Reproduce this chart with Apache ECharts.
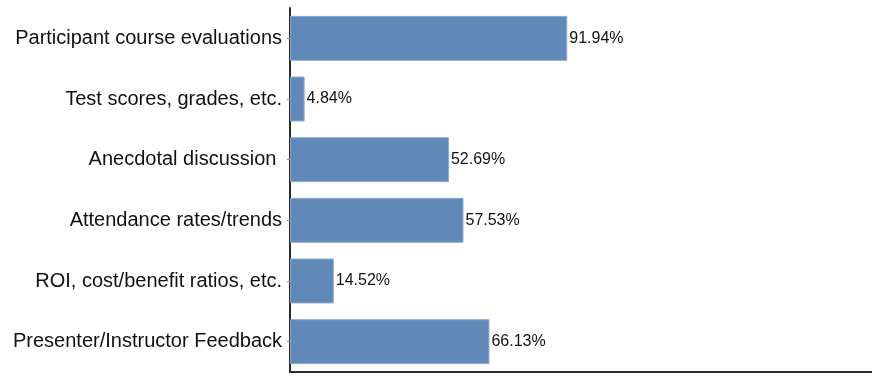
<!DOCTYPE html>
<html>
<head>
<meta charset="utf-8">
<script src="https://cdn.jsdelivr.net/npm/echarts@6/dist/echarts.min.js"></script>
<style>
  html, body { margin: 0; padding: 0; background: #fff; }
  #chart { width: 872px; height: 378px; }
</style>
</head>
<body>
<div id="chart"></div>
<script>
// Evaluation methods, listed top to bottom
const categories = [
  'Participant course evaluations',
  'Test scores, grades, etc.',
  'Anecdotal discussion ',
  'Attendance rates/trends',
  'ROI, cost/benefit ratios, etc.',
  'Presenter/Instructor Feedback'
];
// Share of respondents (%)
const values = [91.94, 4.84, 52.69, 57.53, 14.52, 66.13];

const chart = echarts.init(document.getElementById('chart'), null, { renderer: 'canvas' });

chart.setOption({
  animation: false,
  backgroundColor: '#ffffff',
  grid: { left: 290, right: 0, top: 8, bottom: 6, containLabel: false },
  xAxis: {
    type: 'value',
    min: 0,
    max: 193,
    axisLine: { show: true, lineStyle: { color: '#2b2b2b', width: 2 } },
    axisTick: { show: false },
    axisLabel: { show: false },
    splitLine: { show: false }
  },
  yAxis: {
    type: 'category',
    data: categories,
    inverse: true,
    axisLine: { show: true, lineStyle: { color: '#2b2b2b', width: 2 } },
    axisTick: { show: true, alignWithLabel: true, length: 3, lineStyle: { color: '#888', width: 1 } },
    axisLabel: {
      color: '#111',
      fontFamily: 'Liberation Sans, Arial, sans-serif',
      fontSize: 20,
      margin: 8
    }
  },
  series: [{
    type: 'bar',
    data: values,
    barCategoryGap: '26%',
    itemStyle: { color: '#6089b8', borderColor: '#86a6cc', borderWidth: 1 },
    label: {
      show: true,
      position: 'right',
      distance: 2,
      color: '#111',
      fontFamily: 'Liberation Sans, Arial, sans-serif',
      fontSize: 16,
      formatter: p => p.value.toFixed(2) + '%'
    }
  }]
});
</script>
</body>
</html>
